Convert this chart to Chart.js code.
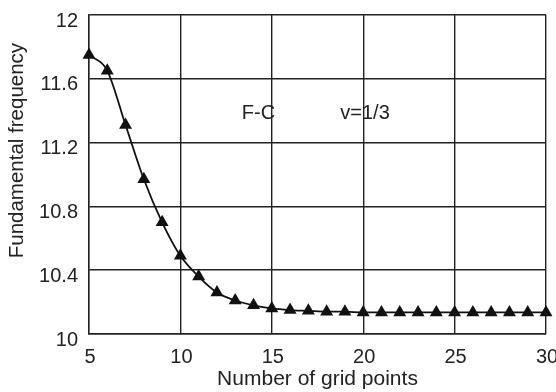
<!DOCTYPE html>
<html>
<head>
<meta charset="utf-8">
<script src="https://cdn.jsdelivr.net/npm/chart.js@4"></script>
<style>
html,body{margin:0;padding:0;background:#fff;}
#wrap{width:556px;height:392px;}
</style>
</head>
<body>
<div id="wrap"><canvas id="c" width="556" height="392"></canvas></div>
<script>
const gridPoints = [5,6,7,8,9,10,11,12,13,14,15,16,17,18,19,20,21,22,23,24,25,26,27,28,29,30];
const frequency = [11.75,11.65,11.31,10.97,10.70,10.49,10.36,10.26,10.21,10.18,10.16,10.15,10.145,10.14,10.14,10.135,10.135,10.135,10.135,10.135,10.135,10.135,10.135,10.135,10.135,10.135];
const xTickValues = [5,10,15,20,25,30];
const xTickLabels = ['5','10','15','20','25','30'];
const yTickValues = [10,10.4,10.8,11.2,11.6,12];
const yTickLabels = ['10','10.4','10.8','11.2','11.6','12'];
const annotations = [
  {text:'F-C', x:14.27, y:11.38},
  {text:'v=1/3', x:20.1, y:11.38}
];
const xTitle = 'Number of grid points';
const yTitle = 'Fundamental frequency';

const FONT = "'Liberation Sans', Arial, sans-serif";

const textPlugin = {
  id:'texts',
  afterDraw(chart){
    const ctx = chart.ctx, xs = chart.scales.x, ys = chart.scales.y;
    ctx.save();
    ctx.fillStyle = '#222';
    ctx.font = '20px ' + FONT;
    ctx.textAlign = 'center';
    ctx.textBaseline = 'middle';
    annotations.forEach(a => ctx.fillText(a.text, xs.getPixelForValue(a.x), ys.getPixelForValue(a.y)));
    // y axis title
    ctx.font = '20.5px ' + FONT;
    ctx.translate(17, ys.getPixelForValue(11.15));
    ctx.rotate(-Math.PI/2);
    ctx.fillText(yTitle, 0, 0);
    ctx.restore();
  }
};

new Chart(document.getElementById('c'), {
  type:'line',
  data:{
    datasets:[{
      data: gridPoints.map((x,i)=>({x:x, y:frequency[i]})),
      borderColor:'#111',
      borderWidth:1.8,
      backgroundColor:'#111',
      pointStyle:'triangle',
      pointRadius:7.5,
      pointBorderWidth:0,
      pointBackgroundColor:'#111',
      cubicInterpolationMode:'monotone',
      clip:false
    }]
  },
  options:{
    responsive:false,
    animation:false,
    devicePixelRatio:1,
    layout:{padding:{top:15,right:10,left:0,bottom:0}},
    plugins:{legend:{display:false},tooltip:{enabled:false}},
    scales:{
      x:{
        type:'linear', min:5, max:30,
        afterBuildTicks(a){ a.ticks = xTickValues.map(v=>({value:v})); },
        afterFit(a){ a.height = 58; a.paddingLeft = 0; a.paddingRight = 0; },
        ticks:{
          callback:(v)=>{ const i = xTickValues.indexOf(v); return i>=0 ? xTickLabels[i] : ''; },
          color:'#222', font:{family:FONT, size:20}, padding:11, labelOffset:1, maxRotation:0, autoSkip:false
        },
        grid:{color:'#222', lineWidth:1.4, drawTicks:false},
        border:{color:'#222', width:1.4},
        title:{display:true, text:xTitle, color:'#222', font:{family:FONT, size:21}, padding:{top:2,bottom:0}}
      },
      y:{
        type:'linear', min:10, max:12,
        afterBuildTicks(a){ a.ticks = yTickValues.map(v=>({value:v})); },
        afterFit(a){ a.width = 89; a.paddingTop = 0; a.paddingBottom = 0; },
        ticks:{
          callback:(v)=>{ const i = yTickValues.findIndex(t=>Math.abs(t-v)<1e-6); return i>=0 ? yTickLabels[i] : ''; },
          color:'#222', font:{family:FONT, size:20}, padding:11, labelOffset:6, autoSkip:false
        },
        grid:{color:'#222', lineWidth:1.4, drawTicks:false},
        border:{color:'#222', width:1.4}
      }
    }
  },
  plugins:[textPlugin]
});
</script>
</body>
</html>
